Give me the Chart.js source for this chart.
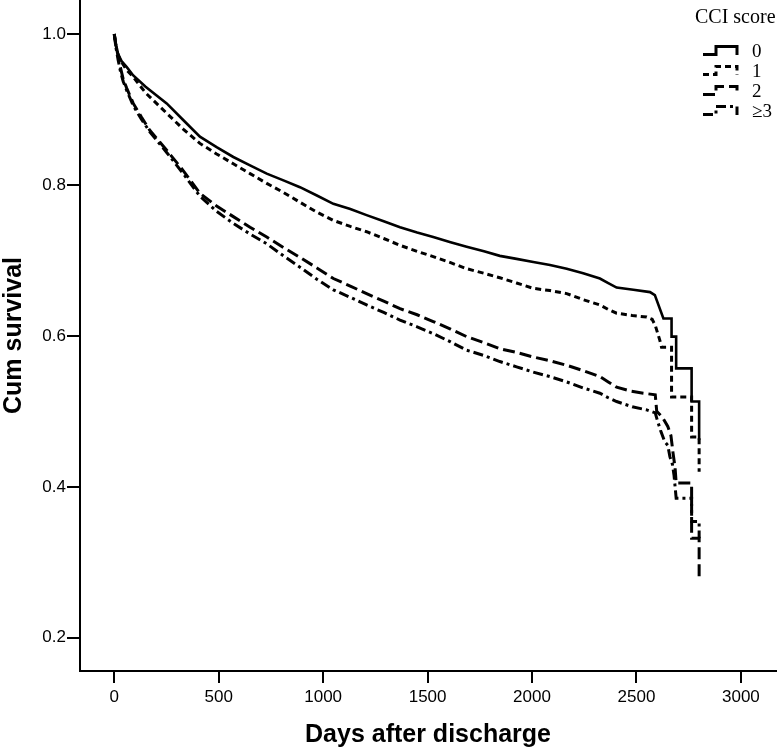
<!DOCTYPE html>
<html>
<head>
<meta charset="utf-8">
<script src="https://cdn.jsdelivr.net/npm/chart.js@4"></script>
<style>
    body { margin: 0; background: #fff; }
    canvas { display: block; }
</style>
</head>
<body>
<canvas id="grafico" width="784" height="754"></canvas>
<script>
const grupos = ["0", "1", "2", "\u22653"];
const tituloLeyenda = "CCI score";
const xTicks = [0, 500, 1000, 1500, 2000, 2500, 3000];
const yTicks = [0.2, 0.4, 0.6, 0.8, 1.0];

// CCI 0
const dias0 = [0, 8, 19, 35, 60, 91, 150, 251, 330, 410, 490, 570, 650, 730, 810, 889, 970, 1049, 1130, 1208, 1290, 1368, 1450, 1527, 1610, 1687, 1770, 1846, 1926, 2006, 2086, 2166, 2245, 2325, 2365, 2405, 2485, 2565, 2588, 2629, 2668, 2668, 2690, 2690, 2764, 2764, 2800, 2800];
const surv0 = [1.0, 0.985, 0.973, 0.964, 0.956, 0.945, 0.930, 0.908, 0.886, 0.864, 0.850, 0.837, 0.826, 0.815, 0.806, 0.797, 0.786, 0.775, 0.768, 0.760, 0.752, 0.744, 0.737, 0.731, 0.724, 0.718, 0.712, 0.706, 0.702, 0.698, 0.694, 0.689, 0.683, 0.676, 0.670, 0.664, 0.661, 0.658, 0.654, 0.623, 0.623, 0.599, 0.599, 0.557, 0.557, 0.513, 0.513, 0.462];

// CCI 1
const dias1 = [0, 8, 19, 30, 60, 91, 150, 251, 330, 410, 490, 570, 650, 730, 810, 889, 970, 1049, 1130, 1208, 1290, 1368, 1450, 1527, 1610, 1687, 1770, 1846, 1926, 2006, 2086, 2166, 2245, 2325, 2365, 2405, 2480, 2549, 2575, 2590, 2612, 2620, 2668, 2668, 2764, 2764, 2800, 2800];
const surv1 = [1.0, 0.985, 0.972, 0.965, 0.952, 0.943, 0.922, 0.895, 0.874, 0.855, 0.841, 0.828, 0.815, 0.802, 0.790, 0.777, 0.764, 0.753, 0.745, 0.738, 0.729, 0.720, 0.712, 0.705, 0.697, 0.689, 0.683, 0.677, 0.670, 0.663, 0.660, 0.656, 0.648, 0.641, 0.635, 0.630, 0.627, 0.625, 0.622, 0.614, 0.594, 0.585, 0.585, 0.519, 0.519, 0.466, 0.466, 0.420];

// CCI 2
const dias2 = [0, 8, 19, 30, 43, 60, 91, 130, 171, 251, 330, 410, 490, 570, 650, 730, 810, 889, 970, 1049, 1130, 1208, 1290, 1368, 1450, 1527, 1610, 1687, 1770, 1846, 1926, 2006, 2086, 2166, 2245, 2325, 2365, 2405, 2470, 2533, 2590, 2597, 2625, 2650, 2665, 2675, 2685, 2690, 2764, 2764, 2800, 2800];
const surv2 = [1.0, 0.985, 0.970, 0.955, 0.940, 0.928, 0.908, 0.890, 0.872, 0.846, 0.819, 0.789, 0.772, 0.758, 0.744, 0.731, 0.717, 0.704, 0.690, 0.676, 0.666, 0.656, 0.646, 0.636, 0.628, 0.619, 0.609, 0.599, 0.591, 0.583, 0.578, 0.572, 0.567, 0.561, 0.554, 0.546, 0.539, 0.532, 0.527, 0.524, 0.522, 0.500, 0.492, 0.480, 0.468, 0.445, 0.425, 0.405, 0.405, 0.332, 0.332, 0.280];

// CCI >=3
const dias3 = [0, 8, 19, 30, 43, 60, 91, 130, 171, 251, 330, 410, 490, 570, 650, 730, 810, 889, 970, 1049, 1130, 1208, 1290, 1368, 1450, 1527, 1610, 1687, 1770, 1846, 1926, 2006, 2086, 2166, 2245, 2325, 2365, 2405, 2480, 2549, 2590, 2600, 2615, 2635, 2650, 2660, 2672, 2680, 2690, 2764, 2764, 2800, 2800];
const surv3 = [1.0, 0.982, 0.965, 0.950, 0.937, 0.925, 0.905, 0.887, 0.870, 0.843, 0.815, 0.785, 0.765, 0.749, 0.735, 0.722, 0.706, 0.691, 0.675, 0.661, 0.651, 0.641, 0.631, 0.621, 0.612, 0.603, 0.592, 0.581, 0.574, 0.566, 0.559, 0.552, 0.546, 0.539, 0.531, 0.524, 0.518, 0.513, 0.506, 0.502, 0.498, 0.488, 0.475, 0.460, 0.455, 0.440, 0.430, 0.415, 0.385, 0.385, 0.354, 0.354, 0.332];

const series = [
    { dias: dias0, surv: surv0, dash: [], ancho: 2.6 },
    { dias: dias1, surv: surv1, dash: [6, 4], ancho: 3 },
    { dias: dias2, surv: surv2, dash: [12, 5], ancho: 3 },
    { dias: dias3, surv: surv3, dash: [10, 4, 3, 4], ancho: 3 }
];

const datasets = series.map((s, i) => ({
    label: grupos[i],
    data: s.dias.map((d, j) => ({ x: d, y: s.surv[j] })),
    borderColor: "#000",
    borderWidth: s.ancho,
    borderDash: s.dash,
    borderCapStyle: "butt",
    borderJoinStyle: "miter",
    pointRadius: 0,
    tension: 0,
    fill: false
}));

// leyenda dibujada a mano, con la muestra en escalon
const leyenda = {
    id: "leyenda",
    afterDraw(chart) {
        const ctx = chart.ctx;
        ctx.save();
        ctx.fillStyle = "#000";
        ctx.textBaseline = "middle";
        ctx.textAlign = "left";
        ctx.font = '20px "Liberation Serif"';
        ctx.fillText(tituloLeyenda, 695, 18);
        ctx.font = '19px "Liberation Serif"';
        grupos.forEach((g, i) => {
            const y = 52 + i * 20;
            ctx.beginPath();
            ctx.setLineDash(series[i].dash);
            ctx.lineWidth = 3;
            ctx.strokeStyle = "#000";
            ctx.moveTo(703, y + 2.5);
            ctx.lineTo(716, y + 2.5);
            ctx.lineTo(716, y - 5.5);
            ctx.lineTo(737, y - 5.5);
            ctx.lineTo(737, y + 3);
            ctx.stroke();
            ctx.setLineDash([]);
            ctx.fillText(g, 752, y);
        });
        ctx.restore();
    }
};

const fuenteEje = { family: '"Liberation Sans", Arial, sans-serif', size: 17 };
const fuenteTitulo = { family: '"Liberation Sans", Arial, sans-serif', size: 25, weight: "bold", lineHeight: 1.1 };

new Chart(document.getElementById("grafico"), {
    type: "line",
    data: { datasets },
    options: {
        responsive: false,
        animation: false,
        layout: { padding: { top: 0, right: 8, bottom: 0, left: 0 } },
        plugins: {
            legend: { display: false },
            tooltip: { enabled: false }
        },
        scales: {
            x: {
                type: "linear",
                min: -164,
                max: 3168,
                afterBuildTicks: eje => { eje.ticks = xTicks.map(v => ({ value: v })); },
                afterFit: eje => { eje.height = 83; eje.paddingLeft = 0; eje.paddingRight = 0; },
                border: { color: "#000", width: 2 },
                grid: { drawOnChartArea: false, drawTicks: true, tickLength: 12, color: "#000", lineWidth: 2 },
                ticks: { color: "#000", font: fuenteEje, padding: 4, maxRotation: 0, callback: v => String(v) },
                title: {
                    display: true,
                    text: "Days after discharge",
                    color: "#000",
                    font: fuenteTitulo,
                    padding: { top: 0, bottom: 5 }
                }
            },
            y: {
                type: "linear",
                min: 0.156,
                max: 1.045,
                afterBuildTicks: eje => { eje.ticks = yTicks.map(v => ({ value: v })); },
                afterFit: eje => { eje.width = 80; eje.paddingTop = 0; eje.paddingBottom = 0; },
                border: { color: "#000", width: 2 },
                grid: { drawOnChartArea: false, drawTicks: true, tickLength: 13, color: "#000", lineWidth: 2 },
                ticks: { color: "#000", font: fuenteEje, padding: 1, callback: v => v.toFixed(1) },
                title: {
                    display: true,
                    text: "Cum survival",
                    color: "#000",
                    font: fuenteTitulo,
                    padding: { top: 0, bottom: 0 }
                }
            }
        }
    },
    plugins: [leyenda]
});
</script>
</body>
</html>
